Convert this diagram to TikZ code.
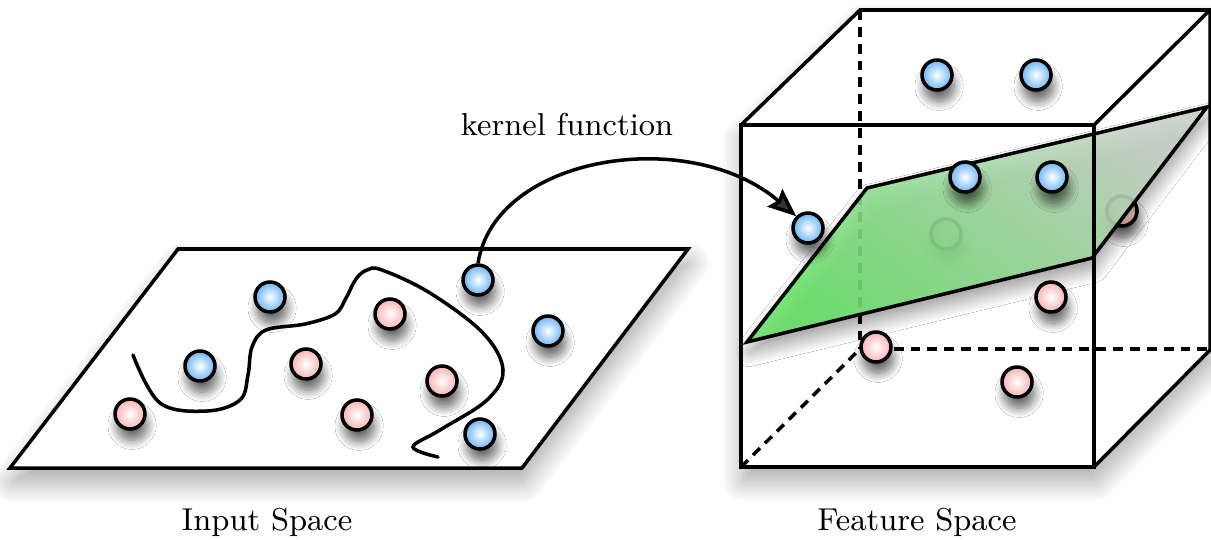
\documentclass[tikz,border=0pt]{standalone}
\usepackage{tikz}
\usetikzlibrary{arrows.meta,shadows.blur}

\definecolor{ballblue}{RGB}{105,180,245}
\definecolor{ballred}{RGB}{248,178,178}
\definecolor{planegreen}{RGB}{105,228,105}
\definecolor{planegray}{RGB}{200,212,200}

\begin{document}
\begin{tikzpicture}[>=Stealth, line width=1pt, x=0.1mm, y=-0.1mm,
    ball/.style={circle, draw, line width=1pt, minimum size=3mm, inner sep=0pt,
        shading=radial,
        blur shadow={shadow xshift=0.6pt, shadow yshift=-3.2pt,
            shadow blur radius=2.6pt, shadow blur steps=12, shadow opacity=60}},
    blueball/.style={ball, inner color=white, outer color=ballblue},
    redball/.style={ball, inner color=white, outer color=ballred},
    hidden/.style={dash pattern=on 2.8pt off 2pt},
    sheet/.style={blur shadow={shadow xshift=0.5pt, shadow yshift=-4pt,
            shadow blur radius=6pt, shadow blur steps=16, shadow opacity=35}},
    lbl/.style={font=\fontsize{9}{11}\selectfont}]
    \useasboundingbox (0,0) rectangle (1211,539);

    % Input plane
    \draw[fill=white, sheet] (178,249) -- (688,249) -- (522,468) -- (10,468) -- cycle;

    % Decision boundary
    \draw[line cap=round] plot[smooth, tension=0.6] coordinates {
        (133,355) (160,403) (207,411) (240,400) (248,375) (252,347)
        (266,330) (305,324) (335,314) (346,298) (356,279) (367,270)
        (382,270) (430,293) (483,333) (503,370) (487,400) (440,430)
        (413,447) (438,457)};

    % Input points
    \node[blueball] (in1) at (270,297) {};
    \node[redball]  (in2) at (390,314) {};
    \node[blueball] (in3) at (200,366) {};
    \node[redball]  (in4) at (306,364) {};
    \node[redball]  (in5) at (442,381) {};
    \node[redball]  (in6) at (130,414) {};
    \node[redball]  (in7) at (357,415) {};
    \node[blueball] (in8) at (478,280) {};
    \node[blueball] (in9) at (548,331) {};
    \node[blueball] (in10) at (480,434) {};

    % Cube body
    \path[fill=white, sheet] (741,125) -- (860,10) -- (1210,10) -- (1210,350)
        -- (1094,467) -- (741,467) -- cycle;

    % Hidden edges
    \draw[hidden] (860,10) -- (860,349);
    \draw[hidden] (860,349) -- (1210,349);
    \draw[hidden] (741,467) -- (860,349);

    % Points behind the plane
    \node[redball] (fs6) at (946,234) {};
    \node[redball] (fs7) at (1122,211) {};

    % Separating plane
    \draw[shading=axis, top color=planegray, bottom color=planegreen,
        shading angle=-35, fill opacity=0.88,
        blur shadow={shadow xshift=0.5pt, shadow yshift=-3pt,
            shadow blur radius=4pt, shadow blur steps=16, shadow opacity=40}]
        (747,342) -- (867,188) -- (1207,107) -- (1092,258) -- cycle;

    % Visible edges
    \draw (741,125) rectangle (1094,467);
    \draw (741,125) -- (860,10) -- (1210,10) -- (1094,125);
    \draw (1210,10) -- (1210,350) -- (1094,467);

    % Feature points
    \node[blueball] (fs1) at (937,75) {};
    \node[blueball] (fs2) at (1036,75) {};
    \node[blueball] (fs3) at (965,177) {};
    \node[blueball] (fs4) at (1052,177) {};
    \node[blueball] (fs5) at (808,228) {};
    \node[redball]  (fs8) at (1051,297) {};
    \node[redball]  (fs9) at (876,347) {};
    \node[redball]  (fs10) at (1017,382) {};

    % Mapping arrow
    \draw[-{Stealth[length=2.8mm, width=2.3mm, inset=0.4mm]}]
        (in8.north) .. controls (495,155) and (690,125) .. (fs5.north west);

    % Labels
    \node[lbl] (kernel) at (567,125) {kernel function};
    \node[lbl] (inlabel) at (267,522) {Input Space};
    \node[lbl] (fslabel) at (917,522) {Feature Space};
\end{tikzpicture}
\end{document}
